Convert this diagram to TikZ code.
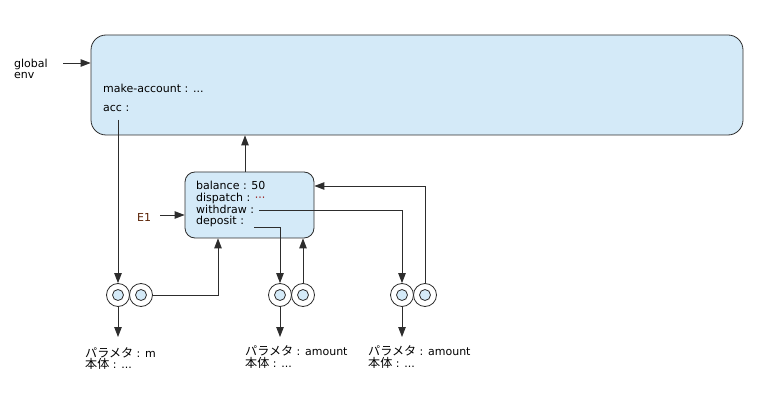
\documentclass[tikz,border=0pt]{standalone}
\usepackage{fontspec}
\setmainfont{DejaVu Sans}
\newfontfamily\jp[Scale=1.1]{Noto Sans CJK JP}
\usetikzlibrary{arrows.meta}
\definecolor{envfill}{RGB}{212,234,248}
\definecolor{linec}{RGB}{45,45,45}
\definecolor{eone}{RGB}{90,35,5}
\definecolor{dotc}{RGB}{150,20,20}
\begin{document}
\begin{tikzpicture}[x=1pt,y=-1pt,
  envbox/.style={draw=linec, fill=envfill, line width=0.8pt, inner sep=0pt},
  conn/.style={draw=linec, line width=0.9pt},
  arr/.style={conn, -{Triangle[length=10pt,width=7.5pt]}},
  txt/.style={inner sep=0pt, anchor=base west, font=\fontsize{11}{12}\selectfont},
  outer/.style={circle, draw=linec, fill=white, line width=0.8pt, minimum size=23pt, inner sep=0pt},
  innerc/.style={circle, draw=linec, fill=envfill, line width=0.8pt, minimum size=11pt, inner sep=0pt}]
\useasboundingbox (0,0) rectangle (771,406);
% environments
\node[envbox, rounded corners=15pt, minimum width=652pt, minimum height=100pt] (G) at (417,85) {};
\node[envbox, rounded corners=10pt, minimum width=129pt, minimum height=66pt] (E) at (249.5,205) {};
% global env label
\node[txt] (ge1) at (14,68) {global};
\node[txt] (ge2) at (14,79) {env};
\coordinate (gea) at (63,63);
\draw[arr] (gea) -- (G.west |- gea);
% global texts
\node[txt] (mk) at (103,93) {make-account : ...};
\node[txt] (acc) at (103,112) {acc :};
\coordinate (accp) at (118,120);
% E1 texts
\node[txt] (bal) at (196,190) {balance : 50};
\node[txt] (dis) at (196,202) {dispatch : \textcolor{dotc}{···}};
\node[txt] (wdr) at (196,214) {withdraw :};
\node[txt] (dep) at (196,225) {deposit :};
\node[txt, text=eone] (e1) at (137,222) {E1};
\coordinate (e1a) at (160,215);
\draw[arr] (e1a) -- ([yshift=-10pt]E.west);
% procedure circles
\node[outer] (c1a) at (118,295) {}; \node[innerc] at (c1a) {};
\node[outer] (c1b) at (141,295) {}; \node[innerc] at (c1b) {};
\node[outer] (c2a) at (280,295) {}; \node[innerc] at (c2a) {};
\node[outer] (c2b) at (303,295) {}; \node[innerc] at (c2b) {};
\node[outer] (c3a) at (402,295) {}; \node[innerc] at (c3a) {};
\node[outer] (c3b) at (425,295) {}; \node[innerc] at (c3b) {};
% connectors
\draw[arr] (accp) -- (c1a.north);
\draw[arr] (c1b.east) -| ([xshift=-31.5pt]E.south);
\draw[arr] ([xshift=-4.5pt]E.north) -- ([xshift=-4.5pt]E.north |- G.south);
\coordinate (wd) at (259,210);
\draw[arr] (wd) -| (c3a.north);
\coordinate (dp) at (254,227);
\draw[arr] (dp) -| (c2a.north);
\draw[arr] (c2b.north) -- (c2b.north |- E.south);
\draw[arr] (c3b.north) |- ([yshift=19pt]E.east);
% parameter texts
\node[txt] (p1) at (85,357) {{\jp パラメタ} : m};
\node[txt] (b1) at (85,368) {{\jp 本体} : ...};
\node[txt] (p2) at (245,355) {{\jp パラメタ} : amount};
\node[txt] (b2) at (245,367) {{\jp 本体} : ...};
\node[txt] (p3) at (368,355) {{\jp パラメタ} : amount};
\node[txt] (b3) at (368,367) {{\jp 本体} : ...};
\coordinate (p1t) at (118,337);
\coordinate (p2t) at (280,337);
\coordinate (p3t) at (402,337);
\draw[arr] (c1a.south) -- (p1t);
\draw[arr] (c2a.south) -- (p2t);
\draw[arr] (c3a.south) -- (p3t);
\end{tikzpicture}
\end{document}
